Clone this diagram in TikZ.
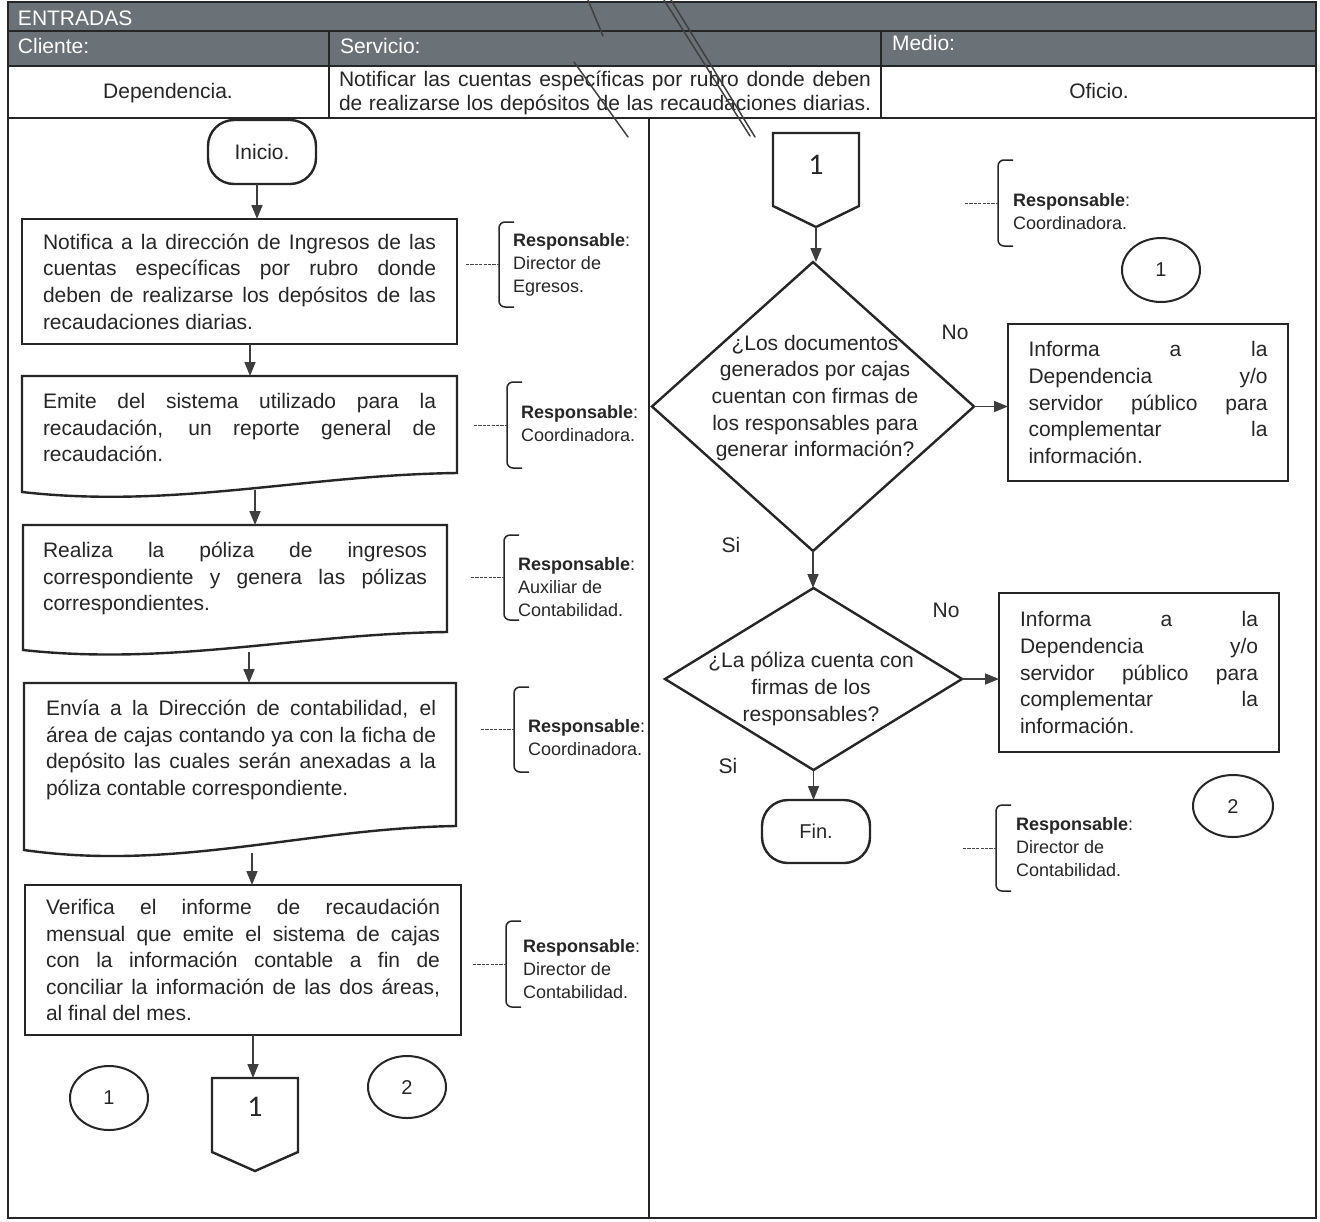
\documentclass[tikz,border=0pt]{standalone}
\usepackage{fontspec}
\setmainfont{Liberation Sans}
\newfontfamily\digitfont{Carlito}
\usetikzlibrary{arrows.meta,shapes.geometric}

\definecolor{hdrgray}{RGB}{106,114,119}
\definecolor{ink}{RGB}{38,38,38}
\definecolor{flowgray}{RGB}{62,62,62}

% one fully justified line of a fixed-width paragraph (font spacing, stretchable)
\newcommand\jl[1]{\makebox[\linewidth][s]{\spaceskip=0pt\xspaceskip=0pt #1}\\}
% closing line of such a paragraph, with the font's own word spacing
\newcommand\lastln[1]{{\spaceskip=0pt\xspaceskip=0pt #1}}

% document symbol: left x, right x, top y, right bottom y, left bottom y
\newcommand\docpath[5]{%
  \draw[shapeline] (#1,#3) -- (#2,#3) -- (#2,#4)
    .. controls ({#1+0.65*(#2-#1)},{#4+0.1*(#5-#4)}) and ({#1+0.35*(#2-#1)},{#5+0.9*(#5-#4)}) .. (#1,#5) -- cycle;}

% off-page connector: name, left x, right x, top y, side y, tip y, label y, label
\newcommand\offpage[8]{%
  \draw[shapeline] (#2,#4) -- (#3,#4) -- (#3,#5) -- ({(#2+#3)/2},#6) -- (#2,#5) -- cycle;
  \coordinate (#1tip) at ({(#2+#3)/2},#6);
  \coordinate (#1top) at ({(#2+#3)/2},#4);
  \node[font=\digitfont\fontsize{15}{17}\selectfont] (#1) at ({(#2+#3)/2},#7) {#8};}

% responsibility note: name, bracket x, top y, bottom y, text x, text y, lines
\newcommand\annot[7]{%
  \draw[brk] (#2+15,#3) -- (#2,#3) -- (#2,#4) -- (#2+15,#4);
  \coordinate (#1mid) at (#2,{(#3+#4)/2});
  \draw[lead] (#2-33,{(#3+#4)/2}) -- (#1mid);
  \node[notefont, anchor=west, align=left] (#1) at (#5,#6) {\textbf{Responsable}:\\#7};}

\tikzset{
  every node/.style={inner sep=0pt, outer sep=0pt, text=ink},
  bodyfont/.style={font=\fontsize{10.5}{13.3}\selectfont},
  notefont/.style={font=\fontsize{9}{11.5}\selectfont},
  hdrfont/.style={font=\fontsize{10.5}{13}\selectfont, text=white},
  frameline/.style={draw=ink, line width=1pt},
  shapeline/.style={draw=ink, line width=1.2pt, line join=miter},
  procbox/.style={shapeline, rectangle, bodyfont, align=left},
  terminal/.style={shapeline, rectangle, rounded corners=13pt, minimum width=54pt, minimum height=32pt, bodyfont},
  decision/.style={shapeline, diamond},
  joint/.style={draw=ink, line width=1pt, ellipse, font=\fontsize{10}{12}\selectfont},
  flow/.style={draw=flowgray, line width=0.8pt, -{Triangle[length=7pt,width=5.5pt]}},
  brk/.style={draw=ink, line width=0.75pt, rounded corners=3pt},
  lead/.style={draw=ink!85, line width=0.5pt, dash pattern=on 1.6pt off 0.6pt},
  pen/.style={draw=black!75, line width=0.75pt, line cap=round},
}

\begin{document}
\begin{tikzpicture}[x=0.5pt,y=-0.5pt]
\useasboundingbox (0,0) rectangle (1320,1221);
\fill[white] (0,0) rectangle (1320,1221);

% ---------- header table ----------
\fill[hdrgray] (8,2) rectangle (1316,66);
\draw[frameline] (8,31) -- (1316,31);
\draw[frameline] (8,66) -- (1316,66);
\draw[frameline, line width=1.3pt] (8,118) -- (1316,118);
\draw[frameline] (329,31) -- (329,118);
\draw[frameline] (881,31) -- (881,118);
\draw[frameline] (649,118) -- (649,1218);
\draw[frameline] (8,2) rectangle (1316,1218);

\node[hdrfont, anchor=west] (hEnt) at (18,18) {ENTRADAS};
\node[hdrfont, anchor=west] (hCli) at (18,46) {Cliente:};
\node[hdrfont, anchor=west] (hSer) at (340,46) {Servicio:};
\node[hdrfont, anchor=west] (hMed) at (892,43) {Medio:};
\node[bodyfont] (vCli) at (168,93) {Dependencia.};
\node[font=\fontsize{10.5}{12}\selectfont, text width=266pt, align=left] (vSer) at (605,93)
  {\jl{Notificar las cuentas específicas por rubro donde deben}\makebox[\linewidth][s]{\spaceskip=0pt\xspaceskip=0pt de realizarse los depósitos de las recaudaciones diarias.}};
\node[bodyfont] (vMed) at (1099,91) {Oficio.};

% ---------- left lane ----------
\coordinate (c1) at (257,0);
\coordinate (c2) at (250,0);
\coordinate (c3) at (255,0);
\coordinate (c4) at (249,0);
\coordinate (c5) at (252,0);
\coordinate (c6) at (253,0);

\node[terminal] (ini) at (262,152) {Inicio.};

\node[procbox, minimum width=217.5pt, minimum height=62.5pt, text width=196.5pt] (b1) at (239.5,281.5)
  {\jl{Notifica a la dirección de Ingresos de las}\jl{cuentas específicas por rubro donde}\jl{deben de realizarse los depósitos de las}\lastln{recaudaciones diarias.}};

\docpath{22}{457}{376}{473}{492}
\coordinate (d2top) at (239.5,376);
\coordinate (d2out) at (255,490);
\node[bodyfont, text width=196.5pt, align=left, anchor=base west] (d2) at (43,408.5)
  {\jl{Emite del sistema utilizado para la}\jl{recaudación, un reporte general de}\lastln{recaudación.}};

\docpath{23}{447}{525}{632}{650}
\coordinate (d3top) at (235,525);
\coordinate (d3out) at (249,652);
\node[bodyfont, text width=192pt, align=left, anchor=base west] (d3) at (43,557.5)
  {\jl{Realiza la póliza de ingresos}\jl{correspondiente y genera las pólizas}\lastln{correspondientes.}};

\docpath{24}{456}{683}{826}{850}
\coordinate (d4top) at (240,683);
\coordinate (d4out) at (252,853);
\node[bodyfont, text width=195pt, align=left, anchor=base west] (d4) at (46,715.5)
  {\jl{Envía a la Dirección de contabilidad, el}\jl{área de cajas contando ya con la ficha de}\jl{depósito las cuales serán anexadas a la}\lastln{póliza contable correspondiente.}};

\node[procbox, minimum width=218pt, minimum height=75pt, text width=197pt] (b5) at (243,960)
  {\jl{Verifica el informe de recaudación}\jl{mensual que emite el sistema de cajas}\jl{con la información contable a fin de}\jl{conciliar la información de las dos áreas,}\lastln{al final del mes.}};

\offpage{offL}{212}{298}{1078}{1152}{1171}{1107}{1}

\node[joint, minimum width=39pt, minimum height=32pt] (k1) at (109,1098) {1};
\node[joint, minimum width=39pt, minimum height=31pt] (k2) at (407,1087) {2};

% left lane connectors
\draw[flow] (c1 |- ini.south) -- (c1 |- b1.north);
\draw[flow] (c2 |- b1.south) -- (c2 |- d2top);
\draw[flow] (d2out) -- (c3 |- d3top);
\draw[flow] (d3out) -- (c4 |- d4top);
\draw[flow] (d4out) -- (c5 |- b5.north);
\draw[flow] (c6 |- b5.south) -- (c6 |- offLtop);

% responsibility notes, left lane
\annot{n1}{499}{222}{307}{513}{265}{Director de\\Egresos.}
\annot{n2}{507}{382}{468}{521}{424}{Coordinadora.}
\annot{n3}{504}{535}{620}{518}{587}{Auxiliar de\\Contabilidad.}
\annot{n4}{514}{687}{772}{528}{738}{Coordinadora.}
\annot{n5}{506}{921}{1007}{523}{969}{Director de\\Contabilidad.}

% ---------- right lane ----------
\offpage{offR}{773}{859}{133}{206}{227}{165}{1}

\node[decision, minimum width=161pt, minimum height=144.5pt] (q1) at (813,406.5) {};
\node[bodyfont, align=center] (q1t) at (815,398)
  {¿Los documentos\\generados por cajas\\cuentan con firmas de\\los responsables para\\generar información?};

\node[procbox, minimum width=140pt, minimum height=78.5pt, text width=119.5pt] (r1) at (1148,402.5)
  {\jl{Informa a la}\jl{Dependencia y/o}\jl{servidor público para}\jl{complementar la}\lastln{información.}};

\node[decision, minimum width=148.5pt, minimum height=91pt] (q2) at (813.5,679) {};
\node[bodyfont, align=center] (q2t) at (811,689)
  {¿La póliza cuenta con\\firmas de los\\responsables?};

\node[procbox, minimum width=140pt, minimum height=79.5pt, text width=119pt] (r2) at (1139,672.5)
  {\jl{Informa a la}\jl{Dependencia y/o}\jl{servidor público para}\jl{complementar la}\lastln{información.}};

\node[terminal, minimum height=31.5pt, font=\fontsize{10}{12}\selectfont] (fin) at (816,831.5) {Fin.};

\node[bodyfont] (no1) at (955,332) {No};
\node[bodyfont] (si1) at (731,545) {Si};
\node[bodyfont] (no2) at (946,610) {No};
\node[bodyfont] (si2) at (728,766) {Si};

\node[joint, minimum width=39pt, minimum height=32pt] (k3) at (1161,270) {1};
\node[joint, minimum width=40pt, minimum height=31pt] (k4) at (1233,806) {2};

% right lane connectors
\draw[flow] (offRtip) -- (offRtip |- q1.north);
\draw[flow] (q1.east) -- (q1.east -| r1.west);
\draw[flow] (q1.south) -- (q1.south |- q2.north);
\draw[flow] (q2.east) -- (q2.east -| r2.west);
\draw[flow] (q2.south) -- (q2.south |- fin.north);

% responsibility notes, right lane
\annot{n6}{998}{160}{246}{1013}{212}{Coordinadora.}
\annot{n7}{996}{805}{891}{1016}{847}{Director de\\Contabilidad.}

% ---------- hand-drawn strokes across the header ----------
\draw[pen] (588,0) -- (603,36);
\draw[pen] (574,62) -- (628,137);
\draw[pen] (664,0) -- (750,136);
\draw[pen] (671,0) -- (755,137);
\end{tikzpicture}
\end{document}
